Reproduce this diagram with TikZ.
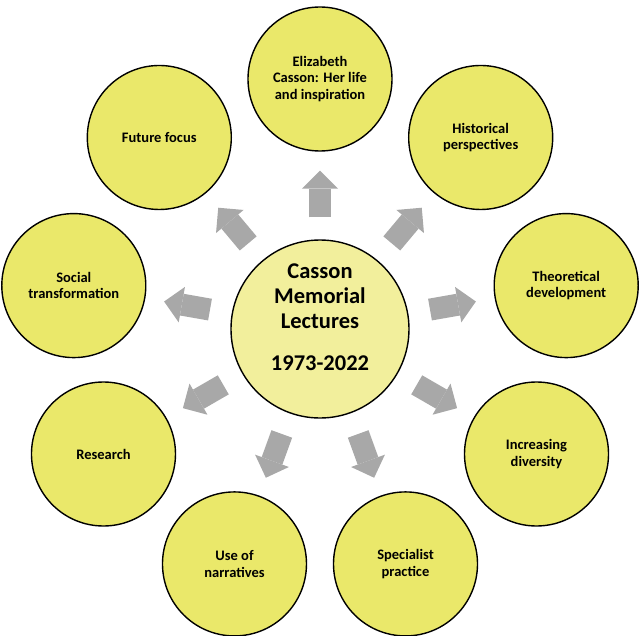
\documentclass[tikz,border=0pt]{standalone}
\usepackage{fontspec}
\setmainfont{Carlito}
\definecolor{casyellow}{HTML}{EAE86A}
\definecolor{caslight}{HTML}{F2EF9C}
\definecolor{casgrey}{HTML}{A8A8A8}
\usetikzlibrary{arrows.meta,calc}

\begin{document}
\begin{tikzpicture}[x=1pt,y=1pt,
  topic/.style={circle,draw=black,line width=1.4pt,fill=casyellow,minimum size=144pt,
    align=center,inner sep=2pt,font=\bfseries\fontsize{14.5}{16.5}\selectfont},
  hub/.style={circle,draw=black,line width=1.4pt,fill=caslight,minimum size=178pt,
    align=center,inner sep=2pt,font=\bfseries\fontsize{22.5}{25}\selectfont},
  blockarrow/.style={draw=casgrey,line width=22pt,
    -{Triangle[length=18pt,width=36pt,line width=0pt]},shorten <=22pt,shorten >=19pt}
]
  \useasboundingbox (-320,-306) rectangle (322,329);
  \node[hub] (hub) at (0,0) {Casson\\Memorial\\Lectures\\[17pt]1973-2022\\[-2pt]\mbox{}};
  \node[topic] (life) at (90:250) {Elizabeth\\Casson: Her life\\and inspiration};
  \node[topic] (history) at (50:250) {Historical\\perspectives};
  \node[topic] (theory) at (10:250) {Theoretical\\development};
  \node[topic] (diversity) at (-30:250) {Increasing\\diversity};
  \node[topic] (specialist) at (-70:250) {Specialist\\practice};
  \node[topic] (narratives) at (-110:250) {Use of\\narratives};
  \node[topic] (research) at (-150:250) {Research};
  \node[topic] (social) at (170:250) {Social\\transformation};
  \node[topic] (future) at (130:250) {Future focus};
  % arrows out from the hub
  \foreach \t in {life,history,theory,diversity,specialist,narratives,research,social,future}
    \draw[blockarrow] (hub) -- (\t);
\end{tikzpicture}
\end{document}
